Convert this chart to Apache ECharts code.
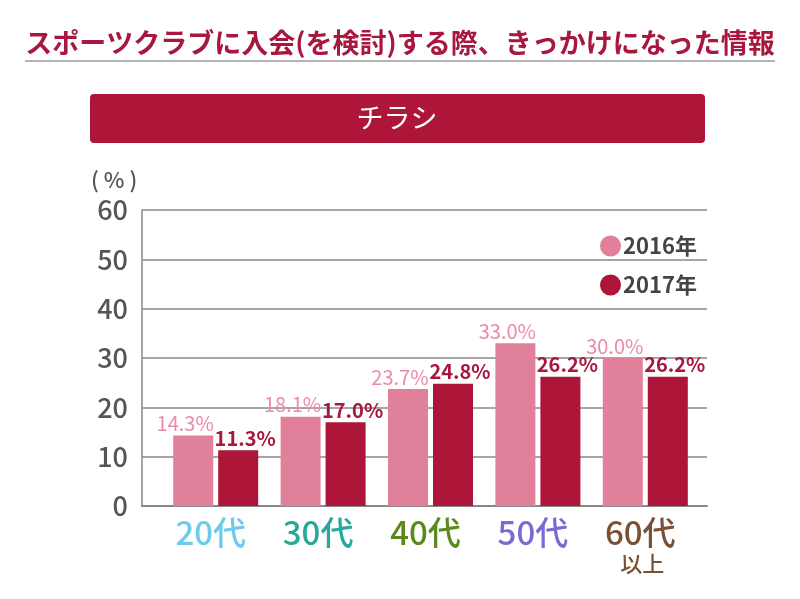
<!DOCTYPE html>
<html><head><meta charset="utf-8">
<script src="https://cdn.jsdelivr.net/npm/echarts@6/dist/echarts.min.js"></script>
<style>html,body{margin:0;padding:0;background:#fff}#c{width:800px;height:599px}</style>
</head><body><div id="c"></div>
<script>
const titleText = 'スポーツクラブに入会(を検討)する際、きっかけになった情報';
const panelText = 'チラシ';
const unitText = '( % )';
const categories = ['20代', '30代', '40代', '50代', '60代'];
const subLabels = ['', '', '', '', '以上'];
const catColors = ['#6ccbec', '#26a89b', '#5a8a1c', '#7d68d4', '#7b5134'];
const seriesNames = ['2016年', '2017年'];
const values2016 = [14.3, 18.1, 23.7, 33.0, 30.0];
const values2017 = [11.3, 17.0, 24.8, 26.2, 26.2];
const yMin = 0, yMax = 60, yStep = 10;

const FONT = '"Noto Sans CJK JP", "Noto Sans", sans-serif';
const chart = echarts.init(document.getElementById('c'));

const rich = {};
catColors.forEach((c, i) => {
  rich['c' + i] = {color: c, fontSize: 33, fontWeight: 500, fontFamily: FONT, lineHeight: 40, padding: [0, 10, 0, 0]};
  rich['s' + i] = {color: c, fontSize: 22, fontWeight: 500, fontFamily: FONT, lineHeight: 24, padding: [0, 6, 0, 0]};
});

chart.setOption({
  animation: false,
  backgroundColor: '#fff',
  textStyle: {fontFamily: FONT},
  title: {
    text: titleText, left: 'center', top: 24,
    textStyle: {fontSize: 27, color: '#a8173d', fontWeight: 'bold', fontFamily: FONT}
  },
  graphic: [
    {type: 'line', shape: {x1: 25, y1: 61, x2: 775, y2: 61}, style: {stroke: '#9a9a9a', lineWidth: 1.5}},
    {type: 'rect', shape: {x: 90, y: 94, width: 615, height: 49, r: 4}, style: {fill: '#ad1639'}},
    {type: 'text', x: 397, y: 118, style: {text: panelText, fill: '#fff', fontSize: 27, fontFamily: FONT, align: 'center', verticalAlign: 'middle'}},
    {type: 'text', x: 91, y: 180, style: {text: unitText, fill: '#555', fontSize: 22, fontWeight: 500, fontFamily: FONT, verticalAlign: 'middle'}}
  ],
  legend: {
    orient: 'vertical', left: 595, top: 230, itemWidth: 21, itemHeight: 21, itemGap: 17,
    icon: 'circle', data: seriesNames,
    textStyle: {fontSize: 22, color: '#444', fontFamily: FONT, fontWeight: 'bold', padding: [0, 0, 0, -3]}
  },
  grid: [
    {left: 142, right: 93, top: 210, bottom: 93},
    {left: 162, right: 101, top: 210, bottom: 93}
  ],
  xAxis: [
    {gridIndex: 0, type: 'category', data: categories, axisLine: {show: true, lineStyle: {color: '#888', width: 2}},
      axisTick: {show: false}, axisLabel: {show: false}},
    {gridIndex: 1, type: 'category', data: categories, axisLine: {show: false}, axisTick: {show: false},
      axisLabel: {
        margin: 6,
        formatter: (v, i) => '{c' + i + '|' + v + '}' + (subLabels[i] ? '\n{s' + i + '|' + subLabels[i] + '}' : ''),
        rich: rich
      }}
  ],
  yAxis: [
    {gridIndex: 0, type: 'value', min: yMin, max: yMax, interval: yStep,
      axisLine: {show: true, lineStyle: {color: '#888', width: 1.5}},
      axisTick: {show: false},
      splitLine: {lineStyle: {color: '#888', width: 1.5}},
      axisLabel: {fontSize: 27, fontWeight: 500, color: '#555', margin: 14, fontFamily: FONT}},
    {gridIndex: 1, type: 'value', min: yMin, max: yMax, interval: yStep, show: false, splitLine: {show: false}}
  ],
  series: [
    {name: seriesNames[0], type: 'bar', xAxisIndex: 1, yAxisIndex: 1, data: values2016,
      barWidth: 40, barGap: '12.5%', itemStyle: {color: '#e0809b'},
      label: {show: true, position: 'top', distance: 2, offset: [-8, 0], formatter: p => p.value.toFixed(1) + '%',
        fontSize: 20, color: '#ea8ba7', fontFamily: FONT}},
    {name: seriesNames[1], type: 'bar', xAxisIndex: 1, yAxisIndex: 1, data: values2017,
      barWidth: 40, barGap: '12.5%', itemStyle: {color: '#ad1639'},
      label: {show: true, position: 'top', distance: 2, offset: [7, 0], formatter: p => p.value.toFixed(1) + '%',
        fontSize: 20, fontWeight: 'bold', color: '#a8173d', fontFamily: FONT}}
  ]
});
</script></body></html>
